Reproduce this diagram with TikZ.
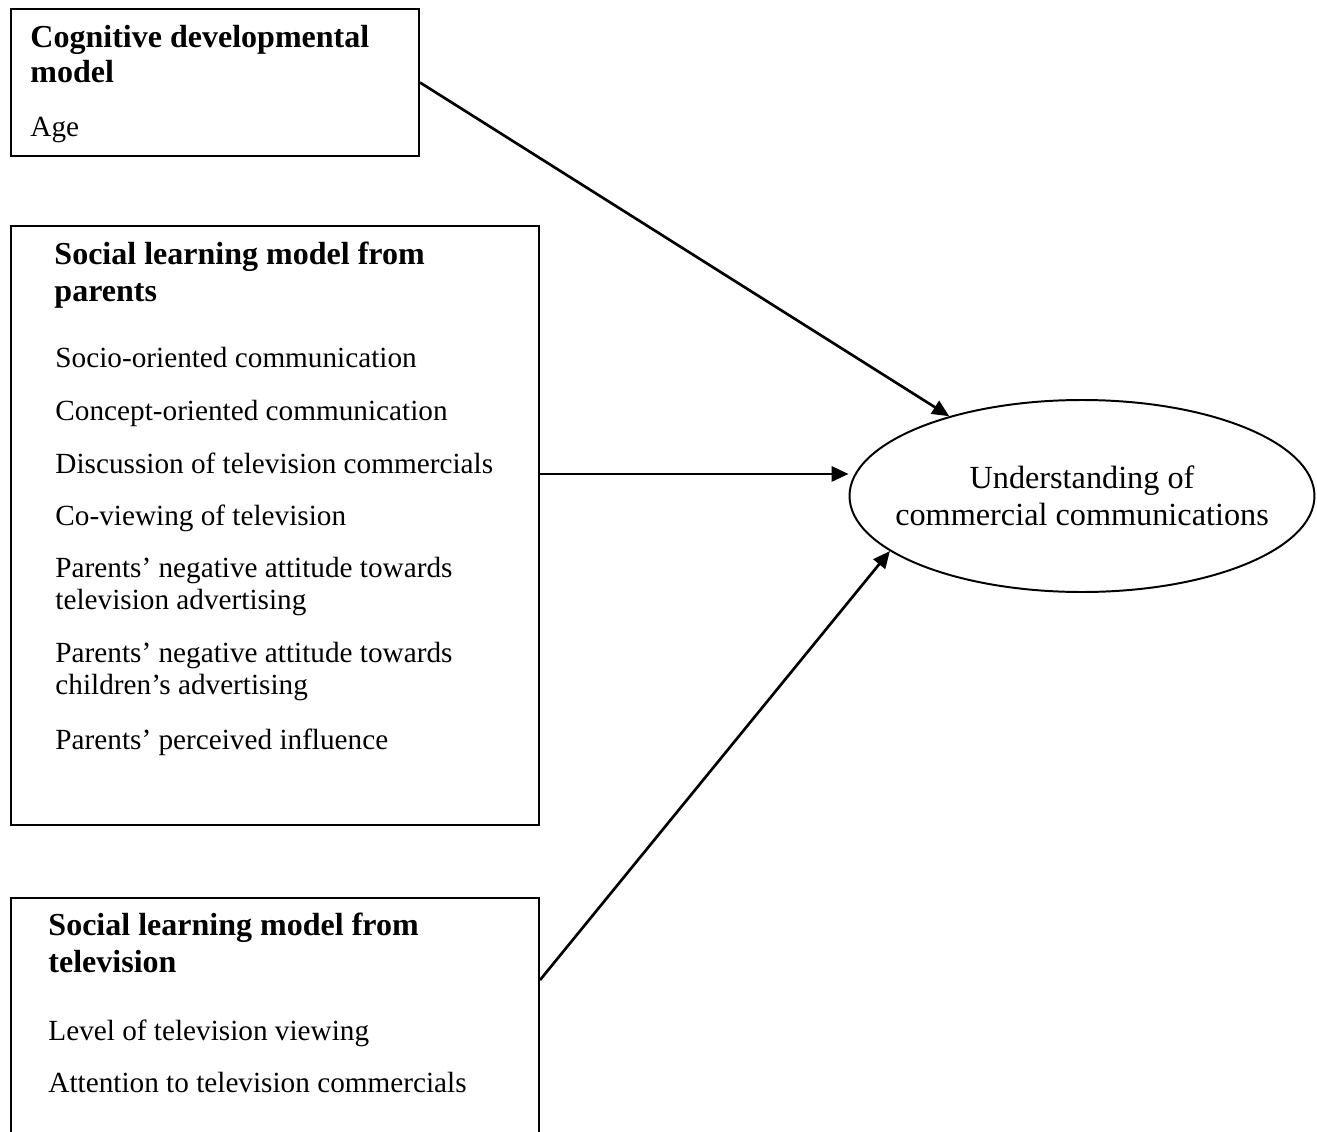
\documentclass[tikz,border=0pt]{standalone}
\usepackage{fontspec}
\setmainfont{Liberation Serif}
\usetikzlibrary{shapes.geometric, arrows.meta}
\tikzset{
    x=0.431pt, y=-0.431pt,
    model/.style={draw, line width=0.85pt, rectangle, anchor=north west, inner sep=0pt},
    title/.style={anchor=base west, inner sep=0pt, align=flush left, text width=230pt,
        font=\fontsize{13.8}{16}\selectfont\bfseries},
    item/.style={anchor=base west, inner sep=0pt, align=flush left, text width=215pt,
        font=\fontsize{12.6}{14.2}\selectfont},
    link/.style={-{Triangle[length=7.3pt, width=6.5pt]}, line width=1.15pt},
}

\begin{document}
\begin{tikzpicture}
                \useasboundingbox (0,0) rectangle (1317,1132);
                \clip (0,0) rectangle (1317,1132);

                % the three models
                \node[model, minimum width=175.85pt, minimum height=63.36pt] (cogbox) at (10,8) {};
                \node[model, minimum width=227.57pt, minimum height=258.17pt] (parbox) at (10,225) {};
                \node[model, minimum width=227.57pt, minimum height=129pt] (tvbox) at (10,897) {};

                \node[title, font=\fontsize{13.8}{15.1}\selectfont\bfseries] (cogtitle) at (30,47) {Cognitive developmental\\model};
                \node[item] (age) at (30,136) {Age};

                \node[title] (partitle) at (54,264) {Social learning model from\\parents};
                \node[item] (socio) at (55,367) {Socio-oriented communication};
                \node[item] (concept) at (55,420) {Concept-oriented communication};
                \node[item] (discuss) at (55,473) {Discussion of television commercials};
                \node[item] (coview) at (55,525) {Co-viewing of television};
                \node[item] (tvattitude) at (55,577) {Parents’ negative attitude towards\\television advertising};
                \node[item] (kidattitude) at (55,662) {Parents’ negative attitude towards\\children’s advertising};
                \node[item] (influence) at (55,749) {Parents’ perceived influence};

                \node[title] (tvtitle) at (48,935) {Social learning model from\\television};
                \node[item] (level) at (48,1040) {Level of television viewing};
                \node[item] (attention) at (48,1092) {Attention to television commercials};

                % outcome
                \node[ellipse, draw, line width=0.85pt, minimum width=200.4pt, minimum height=82.75pt,
                      inner sep=-12pt, align=flush center, font=\fontsize{13.9}{16}\selectfont]
                      (understand) at (1082,496) {Understanding of\\commercial communications};

                \draw[link] (cogbox.east) -- (understand.149);
                \draw[link] ([yshift=22.2pt]parbox.east) -- ([yshift=22.2pt]parbox.east -| understand.west);
                \draw[link] ([yshift=-35.8pt]tvbox.north east) -- (understand.196.5);
            \end{tikzpicture}
\end{document}
